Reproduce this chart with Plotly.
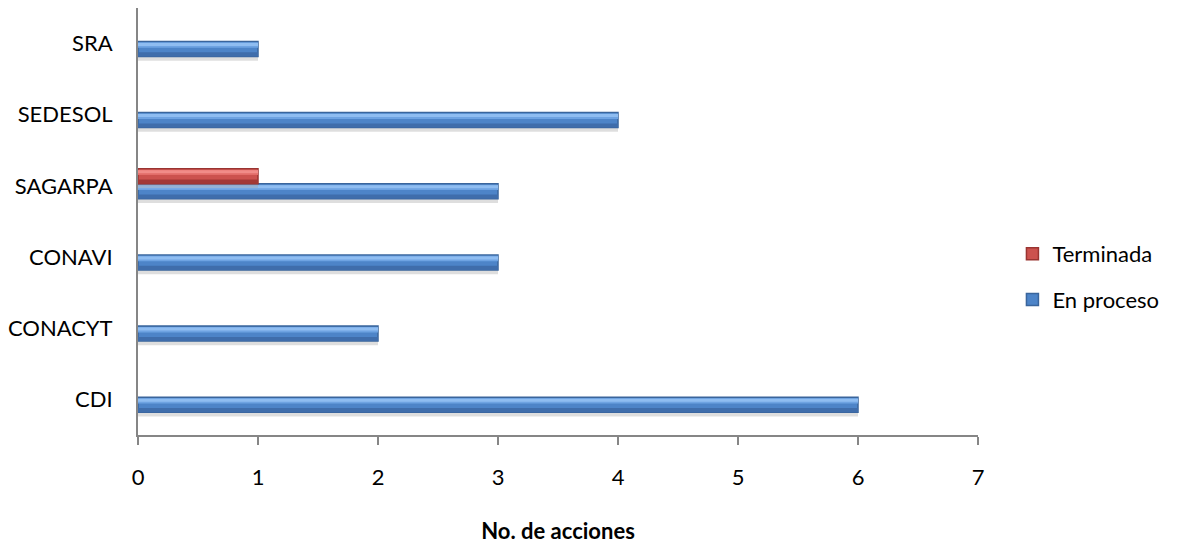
import plotly.graph_objects as go

categories = ["CDI", "CONACYT", "CONAVI", "SAGARPA", "SEDESOL", "SRA"]
en_proceso = [6, 2, 3, 3, 4, 1]
terminada = [None, None, None, 1, None, None]
x_ticks = [0, 1, 2, 3, 4, 5, 6, 7]

FONT = "Lato, 'Open Sans', sans-serif"

fig = go.Figure()


def add_bar(values, name, rank, base_off, width, shades, edge):
    # soft shadow under the bar
    fig.add_trace(go.Bar(
        y=categories, x=values, orientation="h", name=name,
        offset=base_off - 0.06, width=width,
        marker=dict(color="rgba(160,160,160,0.35)", line=dict(width=0)),
        showlegend=False, hoverinfo="skip",
    ))
    for i, (ro, rw, col) in enumerate(shades):
        fig.add_trace(go.Bar(
            y=categories, x=values, orientation="h", name=name,
            offset=base_off + ro * width, width=rw * width,
            marker=dict(color=col, line=dict(color=edge, width=1.5 if i == 0 else 0)),
            showlegend=(i == 0), legendrank=rank, legendgroup=name,
            hoverinfo="x+y+name" if i == 0 else "skip",
        ))


blue_shades = [
    (0.0, 1.0, "#4d84c8"),
    (0.0, 0.28, "#3f6dab"),
    (0.58, 0.36, "#6ea3e2"),
    (0.70, 0.20, "#8fbdf1"),
]
red_shades = [
    (0.0, 1.0, "#cc524e"),
    (0.0, 0.28, "#a33936"),
    (0.58, 0.36, "#e26d69"),
    (0.70, 0.20, "#f18c88"),
]

add_bar(en_proceso, "En proceso", 2, -0.18, 0.21, blue_shades, "#3a659c")
add_bar(terminada, "Terminada", 1, 0.03, 0.21, red_shades, "#9a3431")

fig.update_layout(
    width=1183, height=546,
    barmode="overlay",
    plot_bgcolor="white", paper_bgcolor="white",
    margin=dict(l=130, r=213, t=0, b=119),
    font=dict(family=FONT, size=22, color="#000000"),
    showlegend=True,
    legend=dict(
        x=1.041, y=0.37, xanchor="left", yanchor="middle",
        font=dict(size=22), tracegroupgap=14, itemwidth=30,
    ),
    xaxis=dict(
        range=[0, 7], tickvals=x_ticks, showgrid=False,
        showline=True, linecolor="#868686", linewidth=2,
        ticks="outside", ticklen=8, tickcolor="#868686", tickwidth=2,
        zeroline=False, tickfont=dict(size=22), ticklabelstandoff=14,
        automargin=False,
        title=dict(text="<b>No. de acciones</b>", font=dict(size=22), standoff=34),
    ),
    yaxis=dict(
        showgrid=False, showline=True, linecolor="#868686", linewidth=2,
        ticks="", ticklen=0, ticklabelstandoff=19, automargin=False,
        tickfont=dict(size=22),
    ),
)

fig.write_html("out.html")
